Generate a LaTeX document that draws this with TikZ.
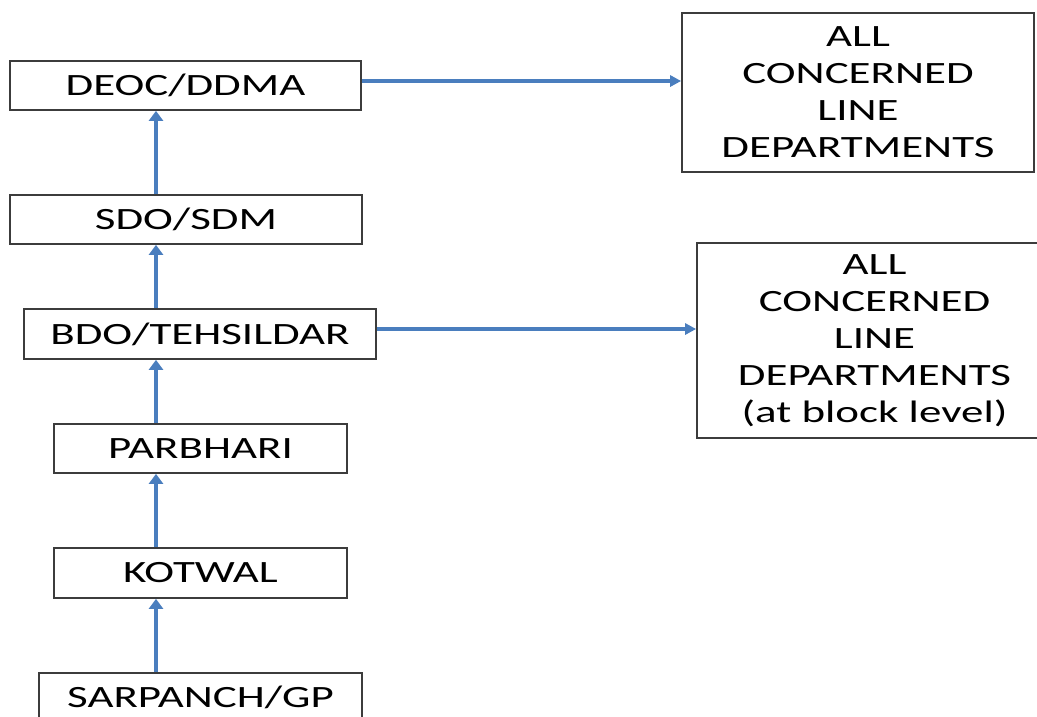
\documentclass[tikz,border=0pt]{standalone}
\usepackage{fontspec}
\setmainfont{Carlito}[FakeStretch=1.45]
\usetikzlibrary{arrows.meta}
\definecolor{flowblue}{RGB}{74,126,190}
\definecolor{boxline}{RGB}{60,60,60}
\tikzset{
  level/.style={draw=boxline, line width=1.7pt, fill=white, inner sep=0pt,
    align=center, font=\fontsize{31}{37}\selectfont},
  uparrow/.style={draw=flowblue, line width=4.6pt,
    -{Triangle[length=10pt,width=14pt]}},
  sidearrow/.style={draw=flowblue, line width=3.2pt,
    -{Triangle[length=11pt,width=11pt]}}
}
\begin{document}
\begin{tikzpicture}[x=1pt,y=-1pt]
\useasboundingbox (0,0) rectangle (1037,716);
\clip (0,0) rectangle (1037,716);

% reporting chain
\node[level, minimum width=351pt, minimum height=49pt] (deoc)   at (185.5,85.5) {DEOC/DDMA};
\node[level, minimum width=352pt, minimum height=49pt] (sdo)    at (186,219.5)  {SDO/SDM};
\node[level, minimum width=352pt, minimum height=50pt] (bdo)    at (200,334)    {BDO/TEHSILDAR};
\node[level, minimum width=293pt, minimum height=49pt] (parb)   at (200.5,448.5){PARBHARI};
\node[level, minimum width=293pt, minimum height=50pt] (kotwal) at (200.5,573)  {KOTWAL};
\node[level, minimum width=323pt, minimum height=49pt] (sarp)   at (200.5,697.5){SARPANCH/GP};

% line departments
\node[level, minimum width=352pt, minimum height=159pt] (dept1) at (858,92.5)
  {ALL\\CONCERNED\\LINE\\DEPARTMENTS};
\node[level, minimum width=355pt, minimum height=195pt] (dept2) at (874.5,340.5)
  {ALL\\CONCERNED\\LINE\\DEPARTMENTS\\(at block level)};

% vertical spine
\coordinate (spine) at (156,0);
\draw[uparrow] (sarp.north -| spine)   -- (kotwal.south -| spine);
\draw[uparrow] (kotwal.north -| spine) -- (parb.south -| spine);
\draw[uparrow] (parb.north -| spine)   -- (bdo.south -| spine);
\draw[uparrow] (bdo.north -| spine)    -- (sdo.south -| spine);
\draw[uparrow] (sdo.north -| spine)    -- (deoc.south -| spine);

% side links
\coordinate (r1) at (0,81);
\coordinate (r2) at (0,329);
\draw[sidearrow] (deoc.east |- r1) -- (dept1.west |- r1);
\draw[sidearrow] (bdo.east |- r2)  -- (dept2.west |- r2);
\end{tikzpicture}
\end{document}
